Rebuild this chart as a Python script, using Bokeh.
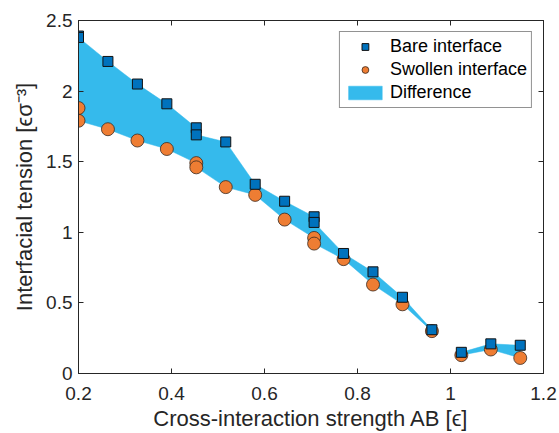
from bokeh.plotting import figure
from bokeh.models import (LinearAxis, Range1d, FixedTicker, Legend, LegendItem,
                          CustomLabelingPolicy)
from bokeh.embed import file_html
from bokeh.resources import INLINE

# Data
x = [0.2, 0.2, 0.2633, 0.3267, 0.39, 0.4533, 0.4533, 0.5167, 0.58, 0.6433,
     0.7067, 0.7067, 0.77, 0.8333, 0.8967, 0.96, 1.0233, 1.0867, 1.15]
bare = [2.39, 2.38, 2.21, 2.05, 1.91, 1.74, 1.69, 1.64, 1.34, 1.22,
        1.11, 1.07, 0.85, 0.72, 0.54, 0.31, 0.15, 0.21, 0.20]
swollen = [1.88, 1.79, 1.73, 1.65, 1.59, 1.49, 1.46, 1.32, 1.265, 1.09,
           0.96, 0.92, 0.81, 0.63, 0.49, 0.30, 0.13, 0.17, 0.11]
# the difference band is drawn in two separate pieces (gap between these indices)
split = 16

x_ticks = [0.2, 0.4, 0.6, 0.8, 1.0, 1.2]
y_ticks = [0, 0.5, 1, 1.5, 2, 2.5]
x_tick_labels = {0.2: "0.2", 0.4: "0.4", 0.6: "0.6", 0.8: "0.8", 1.0: "1", 1.2: "1.2"}
y_tick_labels = {0: "0", 0.5: "0.5", 1: "1", 1.5: "1.5", 2: "2", 2.5: "2.5"}

FONT = "Liberation Sans"
AX = "#262626"

p = figure(frame_width=465, frame_height=353,
           min_border_left=78, min_border_right=16, min_border_top=20, min_border_bottom=58,
           x_range=Range1d(0.2, 1.2), y_range=Range1d(0, 2.5),
           output_backend="svg", toolbar_location=None)
p.xaxis.visible = False
p.yaxis.visible = False
p.grid.visible = False
p.outline_line_color = AX
p.outline_line_width = 1
p.background_fill_color = "white"
p.border_fill_color = "white"

hide_all = CustomLabelingPolicy(code="return new indices.constructor(indices.size)")


def style_axis(ax, show_labels):
    ax.axis_line_color = AX
    ax.major_tick_line_color = AX
    ax.major_tick_in = 5
    ax.major_tick_out = 0
    ax.minor_tick_line_color = None
    ax.major_label_text_font = FONT
    ax.major_label_text_color = AX
    ax.axis_label_text_font = FONT
    ax.axis_label_text_color = AX
    ax.axis_label_text_font_style = "normal"
    if show_labels:
        ax.major_label_text_font_size = "19px"
        ax.axis_label_text_font_size = "22px"
    else:
        ax.major_label_policy = hide_all
        ax.major_label_standoff = 0


xb = LinearAxis(ticker=FixedTicker(ticks=x_ticks), major_label_overrides=x_tick_labels,
                axis_label="Cross-interaction strength AB [ϵ]")
style_axis(xb, True)
xb.major_label_standoff = 13
xb.axis_label_standoff = 3
p.add_layout(xb, "below")

yl = LinearAxis(ticker=FixedTicker(ticks=y_ticks), major_label_overrides=y_tick_labels,
                axis_label="Interfacial tension [ϵσ⁻³]")
style_axis(yl, True)
yl.major_label_standoff = 6
yl.axis_label_standoff = 6
p.add_layout(yl, "left")

xt = LinearAxis(ticker=FixedTicker(ticks=x_ticks))
style_axis(xt, False)
p.add_layout(xt, "above")
yr = LinearAxis(ticker=FixedTicker(ticks=y_ticks))
style_axis(yr, False)
p.add_layout(yr, "right")

# difference band: polygons from bare (forward) and swollen (reversed)
xs_poly, ys_poly = [], []
for a, b in [(0, split), (split, len(x))]:
    xs_poly.append(x[a:b] + x[a:b][::-1])
    ys_poly.append(bare[a:b] + swollen[a:b][::-1])
band = p.patches(xs_poly, ys_poly, fill_color="#35BAEC", line_color="#35BAEC", line_width=0.5)

circ = p.scatter(x, swollen, marker="circle", size=13, fill_color="#EE7D33",
                 line_color="#3a2a20", line_width=0.8)
sq = p.scatter(x, bare, marker="square", size=10, fill_color="#0072BD",
               line_color="#111111", line_width=1)

legend = Legend(items=[LegendItem(label="Bare interface", renderers=[sq]),
                       LegendItem(label="Swollen interface", renderers=[circ]),
                       LegendItem(label="Difference", renderers=[band])],
                location="top_right")
legend.label_text_font = FONT
legend.label_text_font_size = "18px"
legend.label_text_color = "black"
legend.glyph_width = 42
legend.glyph_height = 17
legend.label_height = 17
legend.spacing = 2
legend.padding = 4
legend.margin = 11
legend.label_standoff = 4
legend.border_line_color = AX
legend.border_line_width = 1
legend.background_fill_alpha = 1
p.add_layout(legend, "center")

open("out.html", "w").write(file_html(p, INLINE))
